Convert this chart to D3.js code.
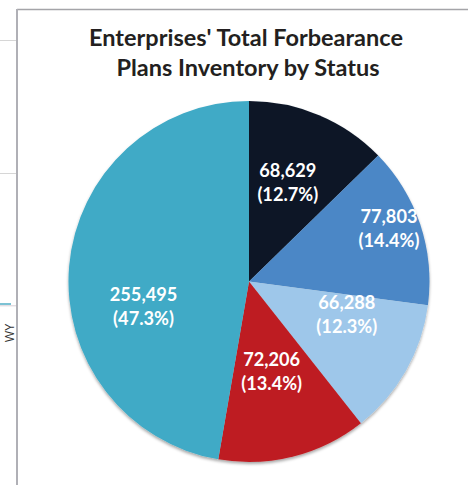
<!DOCTYPE html>
<html>
<head>
<meta charset="utf-8">
<script src="https://cdn.jsdelivr.net/npm/d3@7"></script>
<style>
  html, body { margin: 0; padding: 0; background: #fff; }
  svg { display: block; }
</style>
</head>
<body>
<svg id="chart" width="468" height="485"></svg>
<script>
// Forbearance plan inventory by status (counts of loans)
const statuses = ["Status A", "Status B", "Status C", "Status D", "Status E"];
const counts = [68629, 77803, 66288, 72206, 255495];
const colors = ["#0b1628", "#4b87c6", "#9ec7ea", "#be1e24", "#3faac6"];
const titleLines = ["Enterprises' Total Forbearance", "Plans Inventory by Status"];

// label placement: [angle shift in degrees from slice middle, fraction of radius]
const labelPlacement = [[-1.5, 0.59], [-2.5, 0.83], [-11.5, 0.57], [0, 0.51], [-18, 0.60]];

const svg = d3.select("#chart");
const W = 468, H = 485;
const cx = 249, cy = 281.5, R = 180.5;

// frame of the chart area
svg.append("line").attr("x1", 17).attr("x2", W).attr("y1", 9.5).attr("y2", 9.5)
  .attr("stroke", "#a4a4a8").attr("stroke-width", 1.5);
svg.append("line").attr("x1", 17).attr("x2", 17).attr("y1", 9).attr("y2", H)
  .attr("stroke", "#b0b0b6").attr("stroke-width", 2);

// neighbouring panel edges on the left
const side = svg.append("g");
side.append("line").attr("x1", 0).attr("x2", 16).attr("y1", 40.5).attr("y2", 40.5).attr("stroke", "#d6d6d6");
side.append("line").attr("x1", 0).attr("x2", 16).attr("y1", 173.5).attr("y2", 173.5).attr("stroke", "#d6d6d6");
side.append("line").attr("x1", 0).attr("x2", 11).attr("y1", 304).attr("y2", 304).attr("stroke", "#7cc2d4").attr("stroke-width", 2);
side.append("line").attr("x1", 0).attr("x2", 16).attr("y1", 305.8).attr("y2", 305.8).attr("stroke", "#d8d0d8").attr("stroke-width", 1);
side.append("text").attr("transform", "translate(13.5,333) rotate(-90)")
  .attr("text-anchor", "middle").attr("font-family", "Open Sans, sans-serif")
  .attr("font-size", 12.5).attr("fill", "#333").text("WY");

// title, sized to the available width
const title = svg.append("g").attr("font-family", "Lato, 'Open Sans', sans-serif")
  .attr("font-weight", 700).attr("fill", "#231f20").attr("text-anchor", "middle");
const t1 = title.append("text").attr("x", 246).attr("y", 46).attr("font-size", 24).text(titleLines[0]);
const fs = 24 * 314 / t1.node().getComputedTextLength();
t1.attr("font-size", fs);
title.append("text").attr("x", 248).attr("y", 76).attr("font-size", fs).text(titleLines[1]);

// soft shadow under the pie
const defs = svg.append("defs");
const f = defs.append("filter").attr("id", "shadow").attr("x", "-10%").attr("y", "-10%")
  .attr("width", "120%").attr("height", "120%");
f.append("feDropShadow").attr("dx", 0).attr("dy", 2).attr("stdDeviation", 1.8)
  .attr("flood-color", "#000").attr("flood-opacity", 0.35);

const pie = d3.pie().sort(null).value(d => d)(counts);
const arc = d3.arc().innerRadius(0).outerRadius(R);
const total = d3.sum(counts);

const g = svg.append("g").attr("transform", `translate(${cx},${cy})`);
g.append("g").attr("filter", "url(#shadow)")
  .selectAll("path").data(pie).join("path")
  .attr("d", arc).attr("fill", (d, i) => colors[i]);

// value labels
const fmt = d3.format(",");
const pct = d3.format(".1%");
const labels = g.append("g").attr("font-family", "Lato, 'Open Sans', sans-serif")
  .attr("font-weight", 700).attr("fill", "#fff").attr("text-anchor", "middle");

// size the label font from a sample value
const probe = labels.append("text").attr("font-size", 18).text(fmt(counts[0]));
const lfs = 18 * 57 / probe.node().getComputedTextLength();
probe.remove();

pie.forEach((d, i) => {
  const mid = (d.startAngle + d.endAngle) / 2 + labelPlacement[i][0] * Math.PI / 180;
  const r = labelPlacement[i][1] * R;
  const x = r * Math.sin(mid), y = -r * Math.cos(mid);
  const t = labels.append("text").attr("font-size", lfs)
    .attr("transform", `translate(${x},${y})`);
  t.append("tspan").attr("x", 0).attr("y", -5).text(fmt(d.data));
  t.append("tspan").attr("x", 0).attr("y", 19).text("(" + pct(d.data / total) + ")");
});
</script>
</body>
</html>
